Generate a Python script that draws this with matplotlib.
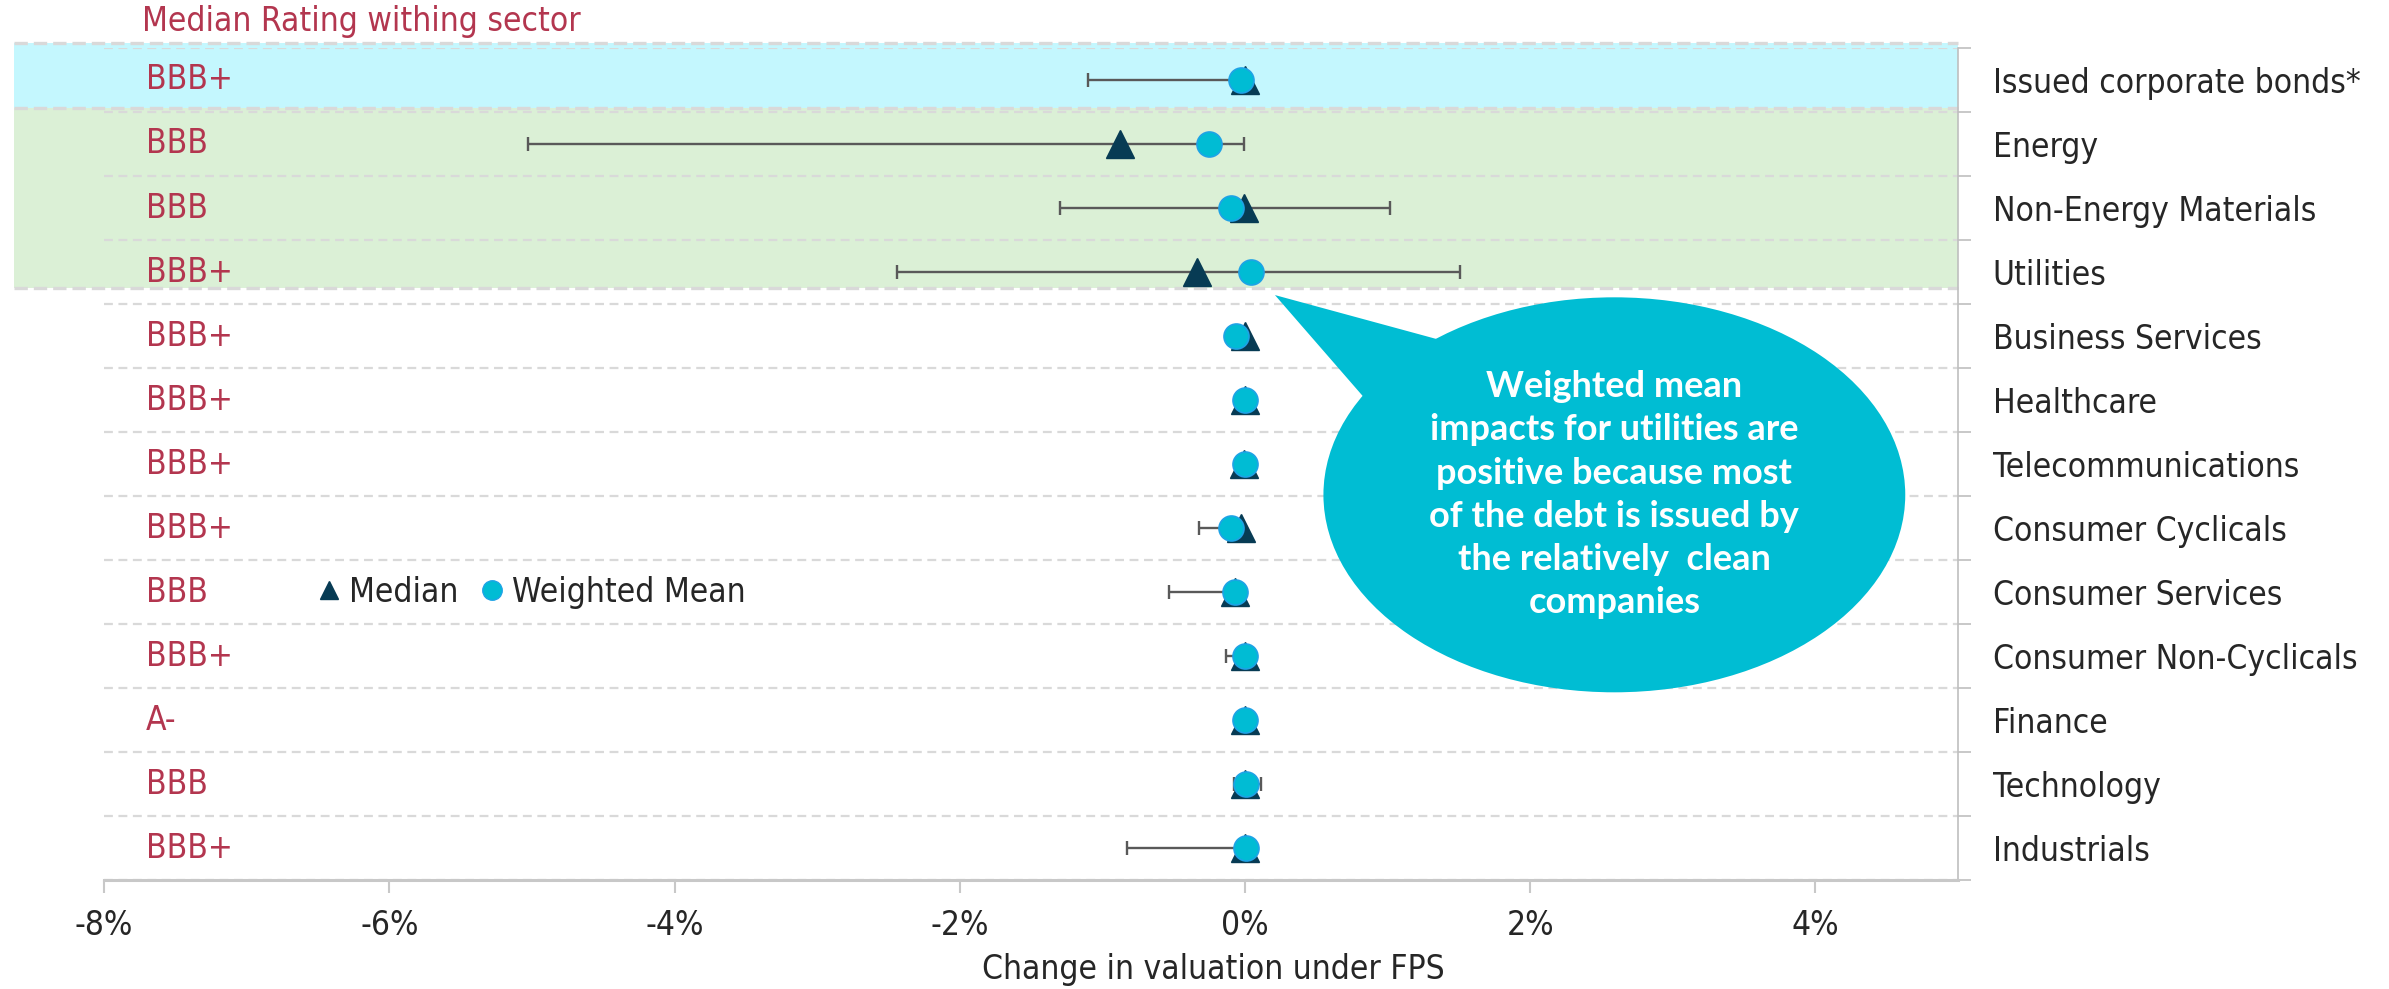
import matplotlib.pyplot as plt
from matplotlib.patches import Ellipse, Polygon, Rectangle
from matplotlib.lines import Line2D
import numpy as np

# Sectors, top to bottom
sectors = ['Issued corporate bonds*', 'Energy', 'Non-Energy Materials', 'Utilities',
           'Business Services', 'Healthcare', 'Telecommunications', 'Consumer Cyclicals',
           'Consumer Services', 'Consumer Non-Cyclicals', 'Finance', 'Technology', 'Industrials']
ratings = ['BBB+', 'BBB', 'BBB', 'BBB+', 'BBB+', 'BBB+', 'BBB+', 'BBB+',
           'BBB', 'BBB+', 'A-', 'BBB', 'BBB+']

# Change in valuation (%)
median = np.array([0.00, -0.88, -0.01, -0.34, 0.00, 0.00, -0.01, -0.03, -0.07, 0.00, 0.00, 0.00, 0.00])
weighted_mean = np.array([-0.03, -0.25, -0.10, 0.04, -0.06, 0.00, 0.00, -0.10, -0.07, 0.00, 0.00, 0.01, 0.01])
range_low = np.array([-1.10, -5.03, -1.30, -2.44, 0.00, 0.00, -0.01, -0.32, -0.53, -0.13, 0.00, -0.08, -0.83])
range_high = np.array([0.00, -0.01, 1.02, 1.51, 0.00, 0.00, -0.01, -0.03, -0.07, 0.00, 0.00, 0.11, 0.00])

xticks = [-8, -6, -4, -2, 0, 2, 4]

RATING_COL = '#b3364f'
TEXT_COL = '#262626'
GRID_COL = '#d9d9d9'
CALLOUT_COL = '#00bdd3'

plt.rcParams['font.family'] = ['DejaVu Sans']
plt.rcParams['font.stretch'] = 'condensed'

fig = plt.figure(figsize=(23.89, 9.89), dpi=100)
ax = fig.add_axes([0.0436, 0.110, 0.7760, 0.8415])

n = len(sectors)
y = np.arange(n)[::-1]

ax.set_xlim(-8, 5)
ax.set_ylim(-0.5, n - 0.5)

# shaded groups (extend past the left edge of the axes)
x_left = -8.63
ax.add_patch(Rectangle((x_left, y[0] - 0.44), 5 - x_left, 1.02, color='#c4f7fe',
                       zorder=0, clip_on=False, lw=0))
ax.add_patch(Rectangle((x_left, y[3] - 0.25), 5 - x_left, (y[0] - 0.44) - (y[3] - 0.25),
                       color='#dbf0d6', zorder=0, clip_on=False, lw=0))
for yy in [y[0] + 0.58, y[0] - 0.44, y[3] - 0.25]:
    ax.plot([x_left, 5], [yy, yy], color=GRID_COL, lw=2.4, ls=(0, (4, 1.8)),
            clip_on=False, zorder=1)

# row separators
for k in np.arange(-0.5, n):
    ax.axhline(k, color=GRID_COL, lw=1.6, ls=(0, (4, 2.5)), zorder=1)

# ranges
ax.errorbar(median, y, xerr=[median - range_low, range_high - median], fmt='none',
            ecolor='#595959', elinewidth=1.7, capsize=4.7, capthick=1.7, zorder=3)
ax.plot(median, y, '^', ms=19.5, color='#073b54', ls='none', zorder=4)
ax.plot(weighted_mean, y, 'o', ms=18, mfc='#00bcd4', mec='#1ea3e6', mew=1.2, ls='none', zorder=5)

FS = 24

# ratings column
for yi, r in zip(y, ratings):
    ax.text(-7.71, yi, r, color=RATING_COL, fontsize=FS, va='center', ha='left')
fig.text(142 / 2389, 1 - 21 / 989, 'Median Rating withing sector', color=RATING_COL,
         fontsize=FS, va='center', ha='left')

# legend
handles = [Line2D([], [], marker='^', color='#073b54', ls='none', ms=13),
           Line2D([], [], marker='o', mfc='#00bcd4', mec='#1ea3e6', ls='none', ms=14)]
ax.legend(handles, ['Median', 'Weighted Mean'], loc='center left', bbox_to_anchor=(0.105, y[8] / (n) + 0.5 / n),
          ncol=2, frameon=False, fontsize=FS, handletextpad=0.1, columnspacing=0.5,
          handlelength=1.0, borderaxespad=0, labelcolor=TEXT_COL)

# axes styling
ax.yaxis.tick_right()
ax.set_yticks(y)
ax.set_yticklabels(sectors)
ax.set_yticks(np.arange(-0.5, n), minor=True)
ax.tick_params(axis='y', which='major', length=0, pad=25, labelsize=FS, labelcolor=TEXT_COL)
ax.tick_params(axis='y', which='minor', length=9, width=1.2, color='#bfbfbf', right=True, left=False)

ax.set_xticks(xticks)
ax.set_xticklabels([f'{v}%' for v in xticks])
ax.tick_params(axis='x', length=9, width=1.5, color='#c8c8c8', pad=12, labelsize=FS, labelcolor=TEXT_COL)

for s in ['left', 'top']:
    ax.spines[s].set_visible(False)
ax.spines['bottom'].set_color('#c8c8c8')
ax.spines['bottom'].set_linewidth(2.2)
ax.spines['right'].set_color('#bfbfbf')
ax.spines['right'].set_linewidth(1.2)

fig.text(0.508, 1 - 969 / 989, 'Change in valuation under FPS', ha='center', va='center',
         fontsize=FS, color=TEXT_COL)

# callout bubble
ax.add_patch(Polygon([(0.21, 8.64), (1.63, 7.78), (0.94, 6.77)], closed=True,
                     fc=CALLOUT_COL, ec='none', zorder=6, clip_on=False))
ax.add_patch(Ellipse((2.59, 5.52), 4.08, 6.17, fc=CALLOUT_COL, ec='none', zorder=6, clip_on=False))
ax.text(2.59, 5.52, 'Weighted mean\nimpacts for utilities are\npositive because most\n'
        'of the debt is issued by\nthe relatively  clean\ncompanies',
        ha='center', va='center', color='white', fontsize=26, fontweight='bold',
        family=['Lato', 'DejaVu Sans'], fontstretch='normal', linespacing=1.38, zorder=7)

fig.savefig('out.png', dpi=100)
